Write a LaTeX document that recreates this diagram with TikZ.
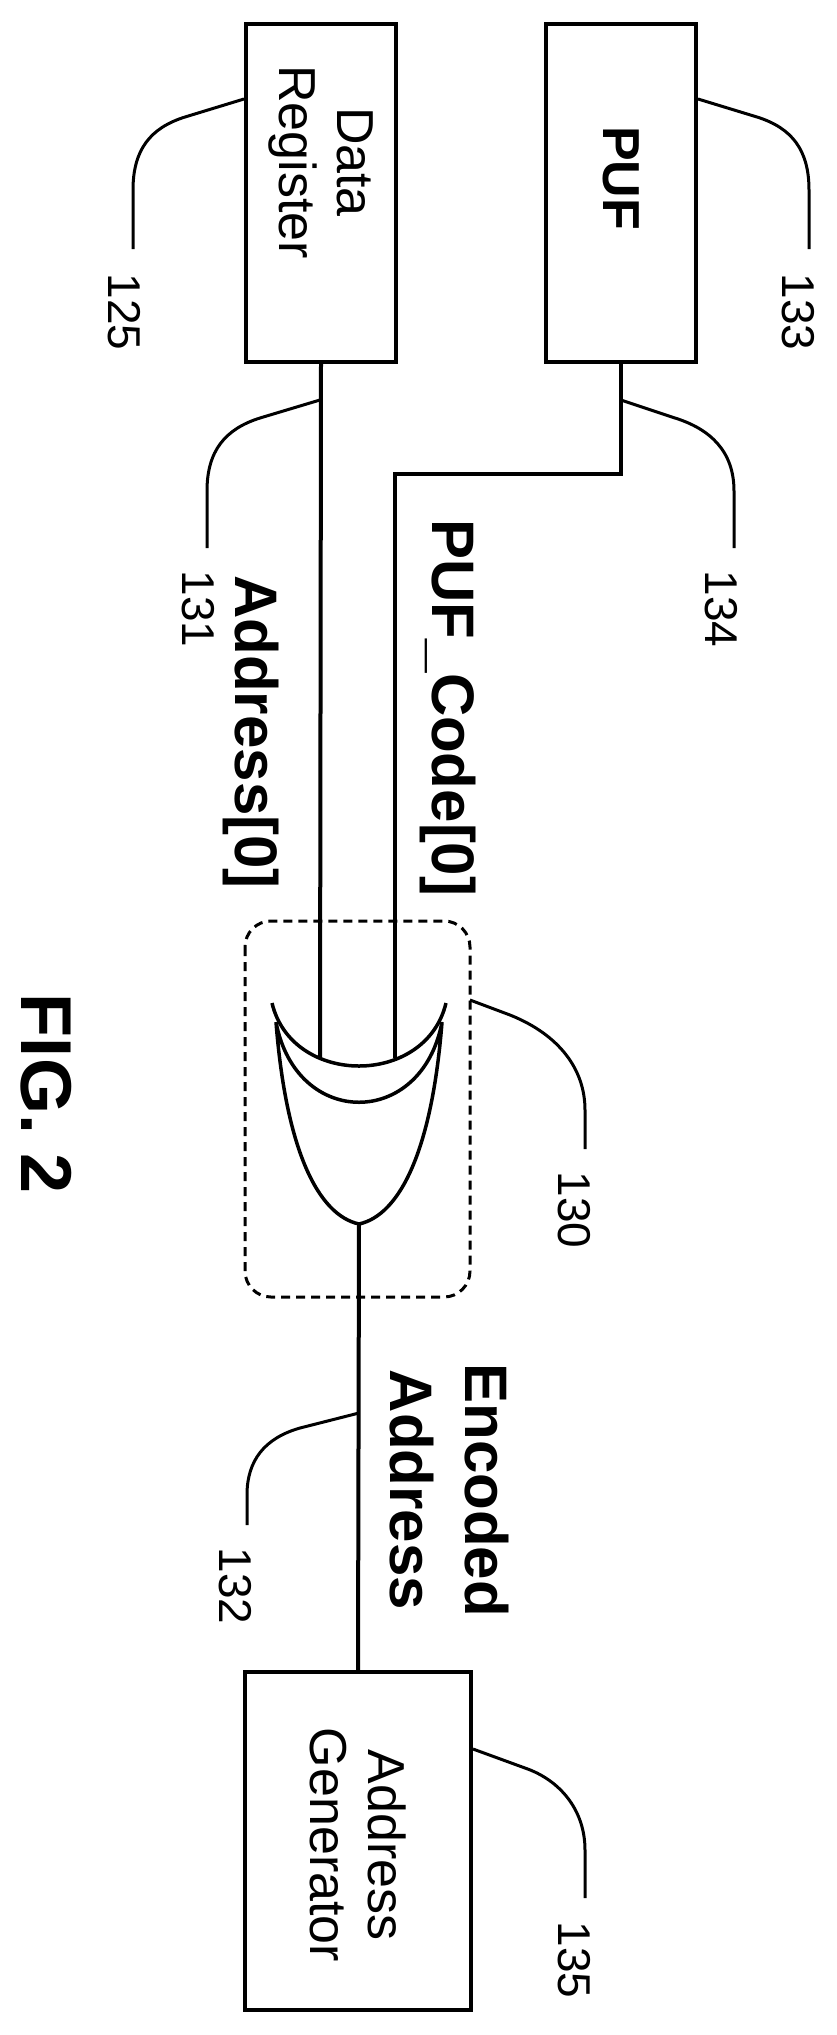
\documentclass[tikz,border=0pt]{standalone}
\usepackage{fontspec}
\setmainfont{Liberation Sans}
\usepackage{tikz}

\begin{document}
\begin{tikzpicture}[x=1pt,y=-1pt,
    blk/.style={draw, line width=4pt, minimum width=150pt, minimum height=338pt, inner sep=0pt},
    wire/.style={line width=4pt},
    lead/.style={line width=3pt},
    num/.style={rotate=-90, inner sep=6pt, font=\fontsize{46}{46}\selectfont},
    sig/.style={rotate=-90, align=center, font=\bfseries\fontsize{60}{66}\selectfont}]
        \useasboundingbox (0,0) rectangle (837,2035);
        % Blocks
        \node[blk] (reg) at (321,193) {};
        \node[rotate=-90, align=center, font=\fontsize{52}{58}\selectfont] (regtxt) at (321,162) {Data\\Register};
        \node[blk] (puf) at (621,193) {};
        \node[rotate=-90, font=\bfseries\fontsize{52}{52}\selectfont] (puftxt) at (621,178) {PUF};
        \node[blk, minimum width=226pt] (gen) at (358,1841) {};
        \node[rotate=-90, align=center, font=\fontsize{52}{58}\selectfont] (gentxt) at (358,1845) {Address\\Generator};
        % XOR gate
        \coordinate (ina) at (320,1058);
        \coordinate (inb) at (395,1058);
        \coordinate (out) at (359,1224);
        \draw[wire, line width=3.5pt] (272,1003) .. controls (292,1087) and (426,1087) .. (446,1003);
        \draw[wire, line width=3.5pt] (276,1022) .. controls (296,1129) and (422,1129) .. (442,1022)
            .. controls (432,1150) and (400,1215) .. (out)
            .. controls (318,1215) and (286,1150) .. (276,1022);
        \draw[dashed, dash pattern=on 9pt off 6pt, line width=3pt, rounded corners=26pt] (245,921) rectangle (470,1297);
        \coordinate (box) at (470,1000);
        % Wires
        \coordinate (bend) at (395,474);
        \draw[wire] (reg.south) -- (ina);
        \draw[wire] (puf.south) |- (bend) -- (inb);
        \draw[wire] (out) -- (gen.north);
        % Signal names
        \node[sig] (addr) at (251,732) {Address[0]};
        \node[sig] (code) at (448,708) {PUF\_Code[0]};
        \node[sig, font=\bfseries\fontsize{60}{75}\selectfont] (enc) at (449,1490) {Encoded\\Address};
        % Reference numerals
        \node[num] (n125) at (124,312) {125};
        \node[num] (n133) at (798,312) {133};
        \node[num] (n131) at (198,609) {131};
        \node[num] (n134) at (721,609) {134};
        \node[num] (n130) at (574,1210) {130};
        \node[num] (n132) at (235,1586) {132};
        \node[num] (n135) at (574,1960) {135};
        \draw[lead] (reg.west |- 0,99) -- (185,117) .. controls (150,128) and (133,150) .. (133,190) -- (133,249);
        \draw[lead] (puf.east |- 0,99) -- (757,117) .. controls (792,128) and (809,150) .. (809,190) -- (809,249);
        \draw[lead] (320,400) -- (260,418) .. controls (225,429) and (207,451) .. (207,491) -- (207,548);
        \draw[lead] (621,400) -- (675,418) .. controls (710,429) and (734,451) .. (734,491) -- (734,548);
        \draw[lead] (box) -- (510,1015) .. controls (560,1035) and (585,1070) .. (585,1110) -- (585,1149);
        \draw[lead] (359,1413) -- (300,1428) .. controls (265,1438) and (247,1460) .. (247,1495) -- (247,1525);
        \draw[lead] (gen.east |- 0,1749) -- (525,1768) .. controls (560,1780) and (585,1810) .. (585,1850) -- (585,1898);
        % Figure title
        \node[rotate=-90, font=\bfseries\fontsize{72}{72}\selectfont] (fig) at (46,1094) {FIG. 2};
\end{tikzpicture}
\end{document}
